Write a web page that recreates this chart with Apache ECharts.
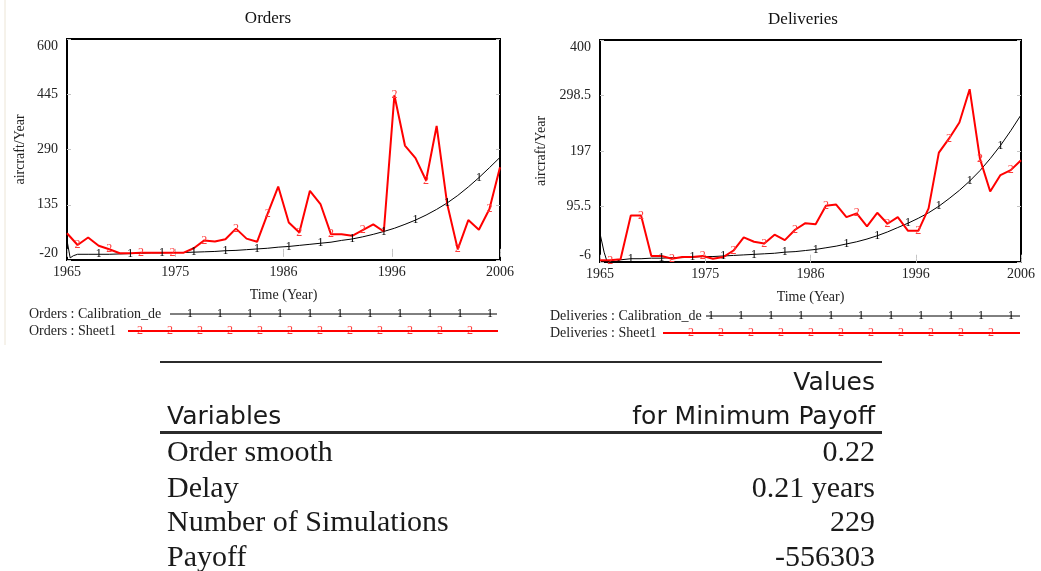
<!DOCTYPE html>
<html>
<head>
<meta charset="utf-8">
<script src="https://cdn.jsdelivr.net/npm/echarts@6/dist/echarts.min.js"></script>
<style>
  html, body { margin: 0; padding: 0; background: #fff; }
  #chart { position: absolute; left: 0; top: 0; width: 1041px; height: 571px; }
  .rule { position: absolute; left: 160px; width: 722px; background: #2b2b2b; }
  .t { position: absolute; white-space: nowrap; color: #1a1a1a; }
  .sans { font-family: "DejaVu Sans", sans-serif; font-size: 25px; line-height: 25px; }
  .serif { font-family: "Liberation Serif", serif; font-size: 30px; line-height: 30px; }
  .r { right: 166px; text-align: right; }
  .l { left: 167px; }
</style>
</head>
<body>
<div id="chart"></div>

<div class="rule" style="top:361px;height:2px"></div>
<div class="t sans r" style="top:369px">Values</div>
<div class="t sans l" style="top:403px">Variables</div>
<div class="t sans r" style="top:403px">for Minimum Payoff</div>
<div class="rule" style="top:431px;height:3px"></div>
<div id="rows"></div>

<script>
// time axis
const years = [1965, 1966, 1967, 1968, 1969, 1970, 1971, 1972, 1973, 1974, 1975, 1976, 1977, 1978,
  1979, 1980, 1981, 1982, 1983, 1984, 1985, 1986, 1987, 1988, 1989, 1990, 1991, 1992, 1993, 1994,
  1995, 1996, 1997, 1998, 1999, 2000, 2001, 2002, 2003, 2004, 2005, 2006];
const xTickValues = [1965, 1975.25, 1985.5, 1995.75, 2006];
const xTickLabels = ['1965', '1975', '1986', '1996', '2006'];

// Orders (aircraft/Year)
const ordersSheet1 = [55, 22, 43, 20, 10, -1, -1, 0, 0, 0, 0, 0, 13, 35, 32, 38, 68, 40, 31, 110,
  186, 85, 57, 174, 137, 52, 52, 48, 64, 80, 60, 442, 301, 266, 203, 356, 137, 10, 92, 65, 123, 240];
const ordersCalibTime = [1965, 1965.3, 1965.6, 1966, 1967, 1968, 1969, 1970, 1971, 1972, 1973, 1974,
  1975, 1976, 1977, 1978, 1979, 1980, 1981, 1982, 1983, 1984, 1985, 1986, 1987, 1988, 1989, 1990,
  1991, 1992, 1993, 1994, 1995, 1996, 1997, 1998, 1999, 2000, 2001, 2002, 2003, 2004, 2005, 2006];
const ordersCalib = [35, -14, -8, -4, -4, -4, -4, -3, -2, -1, 0, 0, 1, 1, 2, 3, 4, 6, 7, 9, 11, 13,
  16, 18, 21, 24, 27, 30, 35, 39, 45, 52, 60, 69, 80, 92, 106, 122, 140, 161, 185, 211, 239, 268];
const ordersYTicks = [-20, 135, 290, 445, 600];

// Deliveries (aircraft/Year)
const deliveriesSheet1 = [-3, -3, -1, 79, 79, 5, 5, 0, 3, 3, 5, 0, 3, 15, 39, 31, 28, 44, 34, 53,
  65, 63, 97, 99, 76, 83, 59, 84, 64, 76, 51, 51, 92, 194, 220, 249, 310, 183, 123, 153, 162, 180];
const deliveriesCalibTime = [1965, 1965.4, 1965.8, 1966.3, 1967, 1968, 1969, 1970, 1971, 1972, 1973,
  1974, 1975, 1976, 1977, 1978, 1979, 1980, 1981, 1982, 1983, 1984, 1985, 1986, 1987, 1988, 1989,
  1990, 1991, 1992, 1993, 1994, 1995, 1996, 1997, 1998, 1999, 2000, 2001, 2002, 2003, 2004, 2005, 2006];
const deliveriesCalib = [46, 12, -12, -7, -2, 0, 0, 1, 1, 2, 2, 3, 4, 4, 5, 6, 7, 8, 9, 10, 12, 13,
  15, 17, 20, 23, 27, 31, 36, 42, 49, 57, 65, 74, 84, 96, 110, 125, 142, 161, 183, 207, 234, 263];
const deliveriesYTicks = [-6, 95.5, 197, 298.5, 400];

// table
const tableVariables = ['Order smooth', 'Delay', 'Number of Simulations', 'Payoff'];
const tableValues = ['0.22', '0.21 years', '229', '-556303'];

const rowTops = [436, 472, 506, 541];
const rowsEl = document.getElementById('rows');
tableVariables.forEach((name, i) => {
  rowsEl.insertAdjacentHTML('beforeend',
    `<div class="t serif l" style="top:${rowTops[i]}px">${name}</div>` +
    `<div class="t serif r" style="top:${rowTops[i]}px">${tableValues[i]}</div>`);
});

const SERIF = '"Liberation Serif", serif';
const RED = '#ff0000';
const MARK_RED = '#ff3b3b';
const TICK_GREY = '#c4c4c4';

const zip = (xs, ys) => xs.map((x, i) => [x, ys[i]]);

function timeAxis(gridIndex, position) {
  const bottom = position === 'bottom';
  return {
    type: 'value',
    gridIndex,
    position,
    min: 1965,
    max: 2006,
    name: bottom ? 'Time (Year)' : '',
    nameLocation: 'middle',
    nameGap: 28,
    nameTextStyle: { fontFamily: SERIF, fontSize: 14, color: '#222' },
    axisLine: { show: false },
    splitLine: { show: false },
    axisTick: {
      show: true, inside: true, length: 4,
      customValues: xTickValues,
      lineStyle: { color: TICK_GREY }
    },
    axisLabel: {
      show: bottom,
      customValues: xTickValues,
      formatter: (v) => xTickLabels[xTickValues.indexOf(v)],
      fontFamily: SERIF, fontSize: 14, color: '#222', margin: 5
    }
  };
}

function valueAxis(gridIndex, position, ticks, nameGap) {
  const left = position === 'left';
  return {
    type: 'value',
    gridIndex,
    position,
    min: ticks[0],
    max: ticks[ticks.length - 1],
    name: left ? 'aircraft/Year' : '',
    nameLocation: 'middle',
    nameGap,
    nameTextStyle: { fontFamily: SERIF, fontSize: 14, color: '#222' },
    axisLine: { show: false },
    splitLine: { show: false },
    axisTick: {
      show: true, inside: true, length: 4,
      customValues: ticks,
      lineStyle: { color: TICK_GREY }
    },
    axisLabel: {
      show: left,
      customValues: ticks,
      fontFamily: SERIF, fontSize: 14, color: '#222', margin: 9,
      verticalAlignMinLabel: 'bottom',
      verticalAlignMaxLabel: 'top'
    }
  };
}

function calibSeries(xAxisIndex, yAxisIndex, time, values) {
  return {
    type: 'line',
    xAxisIndex, yAxisIndex,
    data: zip(time, values),
    symbol: 'circle', symbolSize: 1, showSymbol: true,
    itemStyle: { color: 'rgba(0,0,0,0)' },
    lineStyle: { color: '#000', width: 1 },
    label: {
      show: true, position: 'inside',
      color: '#000', fontFamily: SERIF, fontSize: 12,
      formatter: (p) => {
        const t = p.value[0];
        return Number.isInteger(t) && t > 1965 && (t - 1965) % 3 === 0 ? '1' : '';
      }
    },
    animation: false, silent: true
  };
}

function sheetSeries(xAxisIndex, yAxisIndex, values) {
  return {
    type: 'line',
    xAxisIndex, yAxisIndex,
    data: zip(years, values),
    symbol: 'circle', symbolSize: 1, showSymbol: true,
    itemStyle: { color: 'rgba(0,0,0,0)' },
    lineStyle: { color: RED, width: 2 },
    label: {
      show: true, position: 'inside',
      color: MARK_RED, fontFamily: SERIF, fontSize: 12,
      formatter: (p) => (p.dataIndex % 3 === 1 ? '2' : '')
    },
    animation: false, silent: true
  };
}

// legend rows drawn as plain graphics
function legendRow(label, textX, lineX1, lineX2, y, mark, markX0, markCount, color, width) {
  const els = [
    { type: 'text', style: { text: label, x: textX, y, verticalAlign: 'middle', font: '14px ' + SERIF, fill: '#222' } },
    { type: 'line', shape: { x1: lineX1, y1: y, x2: lineX2, y2: y }, style: { stroke: color, lineWidth: width } }
  ];
  for (let i = 0; i < markCount; i++) {
    els.push({
      type: 'text', z: 10,
      style: {
        text: mark, x: markX0 + 30 * i, y, align: 'center', verticalAlign: 'middle',
        font: '12px ' + SERIF, fill: mark === '2' ? MARK_RED : '#000'
      }
    });
  }
  return els;
}

const chart = echarts.init(document.getElementById('chart'));

chart.setOption({
  backgroundColor: '#fff',
  animation: false,
  grid: [
    { left: 67, top: 39, width: 433, height: 221, show: true, borderColor: '#000', borderWidth: 2, backgroundColor: '#fff' },
    { left: 600, top: 40, width: 421, height: 222, show: true, borderColor: '#000', borderWidth: 2, backgroundColor: '#fff' }
  ],
  xAxis: [
    timeAxis(0, 'bottom'),
    timeAxis(0, 'top'),
    timeAxis(1, 'bottom'),
    timeAxis(1, 'top')
  ],
  yAxis: [
    valueAxis(0, 'left', ordersYTicks, 40),
    valueAxis(0, 'right', ordersYTicks, 0),
    valueAxis(1, 'left', deliveriesYTicks, 52),
    valueAxis(1, 'right', deliveriesYTicks, 0)
  ],
  series: [
    calibSeries(0, 0, ordersCalibTime, ordersCalib),
    sheetSeries(0, 0, ordersSheet1),
    calibSeries(2, 2, deliveriesCalibTime, deliveriesCalib),
    sheetSeries(2, 2, deliveriesSheet1)
  ],
  graphic: [
    { type: 'line', shape: { x1: 5, y1: 0, x2: 5, y2: 345 }, style: { stroke: '#ece5d6', lineWidth: 1 } },
    { type: 'text', style: { text: 'Orders', x: 268, y: 19, align: 'center', verticalAlign: 'middle', font: '17px ' + SERIF, fill: '#111' } },
    { type: 'text', style: { text: 'Deliveries', x: 803, y: 20, align: 'center', verticalAlign: 'middle', font: '17px ' + SERIF, fill: '#111' } },
    ...legendRow('Orders : Calibration_de', 29, 170, 497, 314, '1', 190, 11, '#000', 1),
    ...legendRow('Orders : Sheet1', 29, 128, 498, 331, '2', 140, 12, RED, 2),
    ...legendRow('Deliveries : Calibration_de', 550, 706, 1020, 316, '1', 711, 11, '#000', 1),
    ...legendRow('Deliveries : Sheet1', 550, 663, 1020, 333, '2', 691, 11, RED, 2)
  ]
});
</script>
</body>
</html>
